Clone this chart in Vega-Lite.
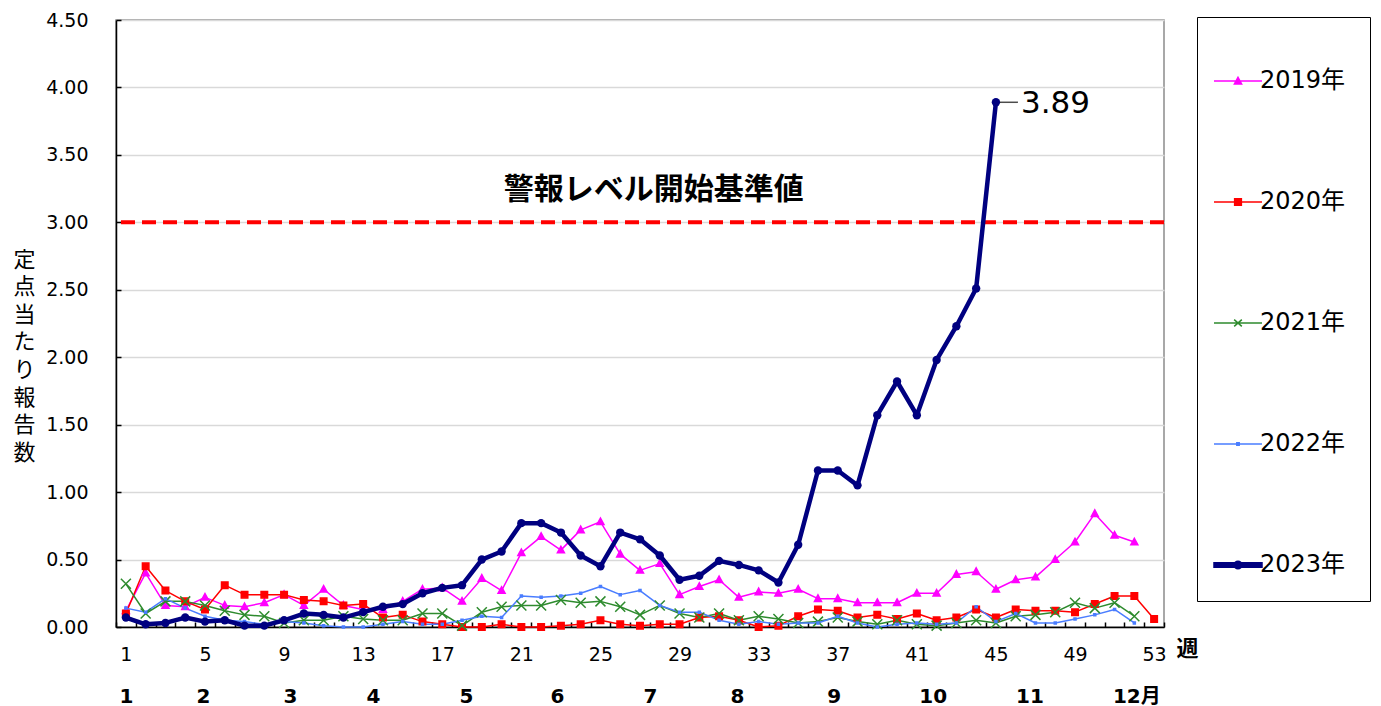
{
"$schema": "https://vega.github.io/schema/vega-lite/v6.json",
"width": 1048, "height": 607,
"autosize": "none",
"padding": {"left": 116, "top": 20, "right": 217, "bottom": 79},
"background": "white",
"config": {"view": {"stroke": "#8c8c8c", "strokeWidth": 1.5}, "axis": {"labelFont": "DejaVu Sans", "labelColor": "#000", "titleColor": "#000"}},
"datasets": {"d": [
{"year":"2019年","week":1,"value":0.12},{"year":"2019年","week":2,"value":0.40},{"year":"2019年","week":3,"value":0.16},{"year":"2019年","week":4,"value":0.15},{"year":"2019年","week":5,"value":0.22},{"year":"2019年","week":6,"value":0.16},{"year":"2019年","week":7,"value":0.15},{"year":"2019年","week":8,"value":0.18},{"year":"2019年","week":9,"value":0.24},{"year":"2019年","week":10,"value":0.16},{"year":"2019年","week":11,"value":0.28},{"year":"2019年","week":12,"value":0.16},{"year":"2019年","week":13,"value":0.13},{"year":"2019年","week":14,"value":0.13},{"year":"2019年","week":15,"value":0.19},{"year":"2019年","week":16,"value":0.28},{"year":"2019年","week":17,"value":0.29},{"year":"2019年","week":18,"value":0.19},{"year":"2019年","week":19,"value":0.36},{"year":"2019年","week":20,"value":0.27},{"year":"2019年","week":21,"value":0.55},{"year":"2019年","week":22,"value":0.67},{"year":"2019年","week":23,"value":0.57},{"year":"2019年","week":24,"value":0.72},{"year":"2019年","week":25,"value":0.78},{"year":"2019年","week":26,"value":0.54},{"year":"2019年","week":27,"value":0.42},{"year":"2019年","week":28,"value":0.47},{"year":"2019年","week":29,"value":0.24},{"year":"2019年","week":30,"value":0.30},{"year":"2019年","week":31,"value":0.35},{"year":"2019年","week":32,"value":0.22},{"year":"2019年","week":33,"value":0.26},{"year":"2019年","week":34,"value":0.25},{"year":"2019年","week":35,"value":0.28},{"year":"2019年","week":36,"value":0.21},{"year":"2019年","week":37,"value":0.21},{"year":"2019年","week":38,"value":0.18},{"year":"2019年","week":39,"value":0.18},{"year":"2019年","week":40,"value":0.18},{"year":"2019年","week":41,"value":0.25},{"year":"2019年","week":42,"value":0.25},{"year":"2019年","week":43,"value":0.39},{"year":"2019年","week":44,"value":0.41},{"year":"2019年","week":45,"value":0.28},{"year":"2019年","week":46,"value":0.35},{"year":"2019年","week":47,"value":0.37},{"year":"2019年","week":48,"value":0.50},{"year":"2019年","week":49,"value":0.63},{"year":"2019年","week":50,"value":0.84},{"year":"2019年","week":51,"value":0.68},{"year":"2019年","week":52,"value":0.63},
{"year":"2020年","week":1,"value":0.10},{"year":"2020年","week":2,"value":0.45},{"year":"2020年","week":3,"value":0.27},{"year":"2020年","week":4,"value":0.19},{"year":"2020年","week":5,"value":0.13},{"year":"2020年","week":6,"value":0.31},{"year":"2020年","week":7,"value":0.24},{"year":"2020年","week":8,"value":0.24},{"year":"2020年","week":9,"value":0.24},{"year":"2020年","week":10,"value":0.20},{"year":"2020年","week":11,"value":0.19},{"year":"2020年","week":12,"value":0.16},{"year":"2020年","week":13,"value":0.17},{"year":"2020年","week":14,"value":0.07},{"year":"2020年","week":15,"value":0.09},{"year":"2020年","week":16,"value":0.04},{"year":"2020年","week":17,"value":0.02},{"year":"2020年","week":18,"value":0.00},{"year":"2020年","week":19,"value":0.00},{"year":"2020年","week":20,"value":0.02},{"year":"2020年","week":21,"value":0.00},{"year":"2020年","week":22,"value":0.00},{"year":"2020年","week":23,"value":0.01},{"year":"2020年","week":24,"value":0.02},{"year":"2020年","week":25,"value":0.05},{"year":"2020年","week":26,"value":0.02},{"year":"2020年","week":27,"value":0.01},{"year":"2020年","week":28,"value":0.02},{"year":"2020年","week":29,"value":0.02},{"year":"2020年","week":30,"value":0.07},{"year":"2020年","week":31,"value":0.08},{"year":"2020年","week":32,"value":0.05},{"year":"2020年","week":33,"value":0.00},{"year":"2020年","week":34,"value":0.01},{"year":"2020年","week":35,"value":0.08},{"year":"2020年","week":36,"value":0.13},{"year":"2020年","week":37,"value":0.12},{"year":"2020年","week":38,"value":0.07},{"year":"2020年","week":39,"value":0.09},{"year":"2020年","week":40,"value":0.06},{"year":"2020年","week":41,"value":0.10},{"year":"2020年","week":42,"value":0.05},{"year":"2020年","week":43,"value":0.07},{"year":"2020年","week":44,"value":0.13},{"year":"2020年","week":45,"value":0.07},{"year":"2020年","week":46,"value":0.13},{"year":"2020年","week":47,"value":0.12},{"year":"2020年","week":48,"value":0.12},{"year":"2020年","week":49,"value":0.11},{"year":"2020年","week":50,"value":0.17},{"year":"2020年","week":51,"value":0.23},{"year":"2020年","week":52,"value":0.23},{"year":"2020年","week":53,"value":0.06},
{"year":"2021年","week":1,"value":0.32},{"year":"2021年","week":2,"value":0.10},{"year":"2021年","week":3,"value":0.19},{"year":"2021年","week":4,"value":0.19},{"year":"2021年","week":5,"value":0.16},{"year":"2021年","week":6,"value":0.12},{"year":"2021年","week":7,"value":0.09},{"year":"2021年","week":8,"value":0.08},{"year":"2021年","week":9,"value":0.03},{"year":"2021年","week":10,"value":0.05},{"year":"2021年","week":11,"value":0.05},{"year":"2021年","week":12,"value":0.08},{"year":"2021年","week":13,"value":0.06},{"year":"2021年","week":14,"value":0.05},{"year":"2021年","week":15,"value":0.05},{"year":"2021年","week":16,"value":0.10},{"year":"2021年","week":17,"value":0.10},{"year":"2021年","week":18,"value":0.01},{"year":"2021年","week":19,"value":0.11},{"year":"2021年","week":20,"value":0.15},{"year":"2021年","week":21,"value":0.16},{"year":"2021年","week":22,"value":0.16},{"year":"2021年","week":23,"value":0.20},{"year":"2021年","week":24,"value":0.18},{"year":"2021年","week":25,"value":0.19},{"year":"2021年","week":26,"value":0.15},{"year":"2021年","week":27,"value":0.09},{"year":"2021年","week":28,"value":0.16},{"year":"2021年","week":29,"value":0.10},{"year":"2021年","week":30,"value":0.07},{"year":"2021年","week":31,"value":0.10},{"year":"2021年","week":32,"value":0.05},{"year":"2021年","week":33,"value":0.08},{"year":"2021年","week":34,"value":0.06},{"year":"2021年","week":35,"value":0.03},{"year":"2021年","week":36,"value":0.04},{"year":"2021年","week":37,"value":0.07},{"year":"2021年","week":38,"value":0.04},{"year":"2021年","week":39,"value":0.02},{"year":"2021年","week":40,"value":0.05},{"year":"2021年","week":41,"value":0.02},{"year":"2021年","week":42,"value":0.01},{"year":"2021年","week":43,"value":0.03},{"year":"2021年","week":44,"value":0.05},{"year":"2021年","week":45,"value":0.03},{"year":"2021年","week":46,"value":0.08},{"year":"2021年","week":47,"value":0.09},{"year":"2021年","week":48,"value":0.11},{"year":"2021年","week":49,"value":0.18},{"year":"2021年","week":50,"value":0.14},{"year":"2021年","week":51,"value":0.18},{"year":"2021年","week":52,"value":0.08},
{"year":"2022年","week":1,"value":0.14},{"year":"2022年","week":2,"value":0.11},{"year":"2022年","week":3,"value":0.21},{"year":"2022年","week":4,"value":0.14},{"year":"2022年","week":5,"value":0.08},{"year":"2022年","week":6,"value":0.05},{"year":"2022年","week":7,"value":0.04},{"year":"2022年","week":8,"value":0.02},{"year":"2022年","week":9,"value":0.04},{"year":"2022年","week":10,"value":0.03},{"year":"2022年","week":11,"value":0.01},{"year":"2022年","week":12,"value":0.00},{"year":"2022年","week":13,"value":0.00},{"year":"2022年","week":14,"value":0.02},{"year":"2022年","week":15,"value":0.04},{"year":"2022年","week":16,"value":0.02},{"year":"2022年","week":17,"value":0.02},{"year":"2022年","week":18,"value":0.05},{"year":"2022年","week":19,"value":0.08},{"year":"2022年","week":20,"value":0.07},{"year":"2022年","week":21,"value":0.23},{"year":"2022年","week":22,"value":0.22},{"year":"2022年","week":23,"value":0.23},{"year":"2022年","week":24,"value":0.25},{"year":"2022年","week":25,"value":0.30},{"year":"2022年","week":26,"value":0.24},{"year":"2022年","week":27,"value":0.27},{"year":"2022年","week":28,"value":0.16},{"year":"2022年","week":29,"value":0.11},{"year":"2022年","week":30,"value":0.11},{"year":"2022年","week":31,"value":0.05},{"year":"2022年","week":32,"value":0.02},{"year":"2022年","week":33,"value":0.04},{"year":"2022年","week":34,"value":0.02},{"year":"2022年","week":35,"value":0.03},{"year":"2022年","week":36,"value":0.03},{"year":"2022年","week":37,"value":0.08},{"year":"2022年","week":38,"value":0.03},{"year":"2022年","week":39,"value":0.00},{"year":"2022年","week":40,"value":0.02},{"year":"2022年","week":41,"value":0.03},{"year":"2022年","week":42,"value":0.02},{"year":"2022年","week":43,"value":0.03},{"year":"2022年","week":44,"value":0.15},{"year":"2022年","week":45,"value":0.04},{"year":"2022年","week":46,"value":0.10},{"year":"2022年","week":47,"value":0.03},{"year":"2022年","week":48,"value":0.03},{"year":"2022年","week":49,"value":0.06},{"year":"2022年","week":50,"value":0.09},{"year":"2022年","week":51,"value":0.13},{"year":"2022年","week":52,"value":0.03},
{"year":"2023年","week":1,"value":0.07},{"year":"2023年","week":2,"value":0.02},{"year":"2023年","week":3,"value":0.03},{"year":"2023年","week":4,"value":0.07},{"year":"2023年","week":5,"value":0.04},{"year":"2023年","week":6,"value":0.05},{"year":"2023年","week":7,"value":0.01},{"year":"2023年","week":8,"value":0.01},{"year":"2023年","week":9,"value":0.05},{"year":"2023年","week":10,"value":0.10},{"year":"2023年","week":11,"value":0.09},{"year":"2023年","week":12,"value":0.07},{"year":"2023年","week":13,"value":0.11},{"year":"2023年","week":14,"value":0.15},{"year":"2023年","week":15,"value":0.17},{"year":"2023年","week":16,"value":0.25},{"year":"2023年","week":17,"value":0.29},{"year":"2023年","week":18,"value":0.31},{"year":"2023年","week":19,"value":0.50},{"year":"2023年","week":20,"value":0.56},{"year":"2023年","week":21,"value":0.77},{"year":"2023年","week":22,"value":0.77},{"year":"2023年","week":23,"value":0.70},{"year":"2023年","week":24,"value":0.53},{"year":"2023年","week":25,"value":0.45},{"year":"2023年","week":26,"value":0.70},{"year":"2023年","week":27,"value":0.65},{"year":"2023年","week":28,"value":0.53},{"year":"2023年","week":29,"value":0.35},{"year":"2023年","week":30,"value":0.38},{"year":"2023年","week":31,"value":0.49},{"year":"2023年","week":32,"value":0.46},{"year":"2023年","week":33,"value":0.42},{"year":"2023年","week":34,"value":0.33},{"year":"2023年","week":35,"value":0.61},{"year":"2023年","week":36,"value":1.16},{"year":"2023年","week":37,"value":1.16},{"year":"2023年","week":38,"value":1.05},{"year":"2023年","week":39,"value":1.57},{"year":"2023年","week":40,"value":1.82},{"year":"2023年","week":41,"value":1.57},{"year":"2023年","week":42,"value":1.98},{"year":"2023年","week":43,"value":2.23},{"year":"2023年","week":44,"value":2.51},{"year":"2023年","week":45,"value":3.89}
]},
"layer": [
{
"data": {"values": [{}]},
"mark": {"type": "rule", "color": "#FF0000", "strokeWidth": 4, "strokeDash": [14, 7]},
"encoding": {"y": {"datum": 3, "type": "quantitative", "scale": {"domain": [0, 4.5], "nice": false}, "axis": null}}
},
{
"data": {"name": "d"},
"transform": [{"filter": "datum.year !== '2023年'"}],
"mark": {"type": "line", "strokeWidth": 1.5, "strokeJoin": "round"},
"encoding": {
"x": {"field": "week", "type": "quantitative", "scale": {"domain": [0.5, 53.5], "nice": false, "zero": false},
"axis": {"orient": "bottom", "values": [1,5,9,13,17,21,25,29,33,37,41,45,49,53], "format": "d", "ticks": false, "grid": false, "domainColor": "#000", "domainWidth": 1.5, "labelFontSize": 19, "labelPadding": 18, "labelFlush": false, "labelOverlap": false,
"title": "週", "titleFont": "Noto Sans CJK JP", "titleFontWeight": "bold", "titleFontSize": 22, "titleX": 1071, "titleY": 21, "titleAlign": "center", "titleBaseline": "middle", "titleAngle": 0}},
"y": {"field": "value", "type": "quantitative", "scale": {"domain": [0, 4.5], "nice": false},
"axis": {"orient": "left", "values": [0,0.5,1,1.5,2,2.5,3,3.5,4,4.5], "format": ".2f", "tickSize": -5, "tickColor": "#000", "tickWidth": 1.5, "domainColor": "#000", "domainWidth": 1.5, "grid": true, "gridColor": "#d9d9d9", "gridWidth": 1.5, "labelFontSize": 19, "labelPadding": 33,
"title": ["定","点","当","た","り","報","告","数"], "titleFont": "Noto Sans CJK JP", "titleFontSize": 22, "titleFontWeight": "normal", "titleAngle": 0, "titleLineHeight": 27.6, "titleX": -92, "titleY": 239, "titleAlign": "center", "titleBaseline": "middle"}},
"color": {"field": "year", "type": "nominal",
"scale": {"domain": ["2019年","2020年","2021年","2022年","2023年"], "range": ["#FF00FF","#FF0000","#2E8B2E","#4A7DFF","#000080"]},
"legend": {"orient": "none", "legendX": 1081, "legendY": -3, "title": " ", "titleFontSize": 10, "titlePadding": 5, "padding": 24, "rowPadding": 84, "symbolSize": 2304, "symbolStrokeWidth": 1.5, "symbolOffset": -8, "labelOffset": -3, "labelFont": "DejaVu Sans, Noto Sans CJK JP", "labelFontSize": 24, "labelColor": "#000", "strokeColor": "#000",
"encode": {
"symbols": {"update": {
"shape": {"signal": "datum.value === '2019年' ? 'M-1,0H1M0,-0.15L0.15,0.12L-0.15,0.12Z' : datum.value === '2020年' ? 'M-1,0H1M-0.14,-0.14H0.14V0.14H-0.14Z' : datum.value === '2021年' ? 'M-1,0H1M-0.16,-0.14L0.16,0.14M-0.16,0.14L0.16,-0.14' : datum.value === '2022年' ? 'M-1,0H1M-0.05,-0.05H0.05V0.05H-0.05Z' : 'M-1,-0.09H1V0.09H-1ZM-0.16,0A0.16,0.16,0,1,1,0.16,0A0.16,0.16,0,1,1,-0.16,0'"},
"fill": {"scale": "color", "field": "value"},
"stroke": {"scale": "color", "field": "value"},
"strokeWidth": {"value": 1.5},
"size": {"value": 2304},
"opacity": {"value": 1}
}}
}}}
}
},
{
"data": {"name": "d"},
"transform": [{"filter": "datum.year !== '2023年'"}],
"mark": {"type": "point", "strokeWidth": 1.5, "opacity": 1, "size": 100},
"encoding": {
"x": {"field": "week", "type": "quantitative",
"axis": {"orient": "bottom", "values": [0.5,1.5,2.5,3.5,4.5,5.5,6.5,7.5,8.5,9.5,10.5,11.5,12.5,13.5,14.5,15.5,16.5,17.5,18.5,19.5,20.5,21.5,22.5,23.5,24.5,25.5,26.5,27.5,28.5,29.5,30.5,31.5,32.5,33.5,34.5,35.5,36.5,37.5,38.5,39.5,40.5,41.5,42.5,43.5,44.5,45.5,46.5,47.5,48.5,49.5,50.5,51.5,52.5,53.5], "labels": false, "domain": false, "grid": false, "ticks": true, "tickSize": -5, "tickColor": "#000", "tickWidth": 1.5, "title": null}},
"y": {"field": "value", "type": "quantitative", "axis": null},
"shape": {"field": "year", "type": "nominal", "scale": {"domain": ["2019年","2020年","2021年","2022年"], "range": ["M0,-0.75L0.7,0.55L-0.7,0.55Z","M-0.65,-0.65H0.65V0.65H-0.65Z","M-1,-1L1,1M-1,1L1,-1","M-0.2,-0.2H0.2V0.2H-0.2Z"]}, "legend": null},
"fill": {"field": "year", "type": "nominal", "scale": {"domain": ["2019年","2020年","2021年","2022年"], "range": ["#FF00FF","#FF0000","#2E8B2E","#4A7DFF"]}, "legend": null},
"stroke": {"field": "year", "type": "nominal", "scale": {"domain": ["2019年","2020年","2021年","2022年"], "range": ["#FF00FF","#FF0000","#2E8B2E","#4A7DFF"]}, "legend": null}
}
},
{
"data": {"name": "d"},
"transform": [{"filter": "datum.year === '2023年'"}],
"mark": {"type": "line", "color": "#000080", "strokeWidth": 4.5, "strokeJoin": "round"},
"encoding": {
"x": {"field": "week", "type": "quantitative", "axis": null},
"y": {"field": "value", "type": "quantitative", "axis": null}
}
},
{
"data": {"name": "d"},
"transform": [{"filter": "datum.year === '2023年'"}],
"mark": {"type": "point", "shape": "circle", "filled": true, "color": "#000080", "size": 70, "opacity": 1},
"encoding": {
"x": {"field": "week", "type": "quantitative", "axis": null},
"y": {"field": "value", "type": "quantitative", "axis": null}
}
},
{
"data": {"values": [{}]},
"mark": {"type": "text", "text": "警報レベル開始基準値", "font": "Noto Sans CJK JP", "fontWeight": "bold", "fontSize": 30, "color": "#000", "align": "center", "baseline": "middle"},
"encoding": {
"x": {"datum": 27.7, "type": "quantitative",
"axis": {"orient": "bottom", "values": [1,4.9,9.3,13.5,18.2,22.8,27.5,31.9,36.8,41.8,46.7,52.1], "labelExpr": "datum.value > 50 ? '12月' : '' + (indexof([1,4.9,9.3,13.5,18.2,22.8,27.5,31.9,36.8,41.8,46.7], datum.value) + 1)", "ticks": false, "domain": false, "grid": false, "labelFont": "DejaVu Sans, Noto Sans CJK JP", "labelFontWeight": "bold", "labelFontSize": 20, "labelPadding": 59, "labelFlush": false, "labelOverlap": false, "title": null}},
"y": {"datum": 3.24, "type": "quantitative", "axis": null}
}
},
{
"data": {"name": "d"},
"transform": [{"filter": "datum.year === '2023年' && datum.week === 45"}],
"mark": {"type": "tick", "orient": "horizontal", "size": 18, "thickness": 1.5, "color": "#000", "xOffset": 13},
"encoding": {
"x": {"field": "week", "type": "quantitative", "axis": null},
"y": {"field": "value", "type": "quantitative", "axis": null}
}
},
{
"data": {"name": "d"},
"transform": [{"filter": "datum.year === '2023年' && datum.week === 45"}],
"mark": {"type": "text", "align": "left", "baseline": "middle", "dx": 25, "dy": 2, "font": "DejaVu Sans", "fontSize": 31, "color": "#000"},
"encoding": {
"x": {"field": "week", "type": "quantitative", "axis": null},
"y": {"field": "value", "type": "quantitative", "axis": null},
"text": {"field": "value", "type": "quantitative", "format": ".2f"}
}
}
],
"resolve": {"axis": {"x": "independent", "y": "independent"}}
}
